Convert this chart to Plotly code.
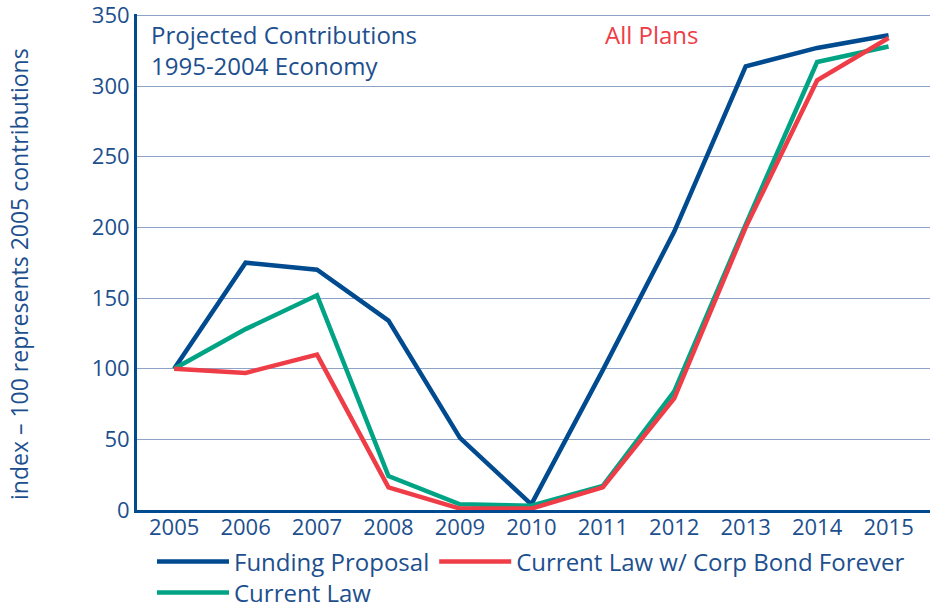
import plotly.graph_objects as go

years = ["2005", "2006", "2007", "2008", "2009", "2010", "2011", "2012", "2013", "2014", "2015"]
funding_proposal = [100, 175, 170, 134, 51, 4, 99, 197, 314, 327, 336]
corp_bond_forever = [100, 97, 110, 16, 1, 1, 16, 79, 200, 304, 334]
current_law = [100, 128, 152, 24, 4, 3, 17, 84, 202, 317, 328]

NAVY = "#004a8f"
RED = "#ee3d47"
GREEN = "#00a384"
TEXT = "#1d4f8e"
GRID = "#8fa3c8"
FONT = "Open Sans"

W, H = 931, 608
ML, MR, MT, MB = 137, 1, 14, 98
PW, PH = W - ML - MR, H - MT - MB

fig = go.Figure()

# green drawn before red so red sits on top like the original
traces = [
    ("Funding Proposal", funding_proposal, NAVY, 1, "legend"),
    ("Current Law", current_law, GREEN, 3, "legend2"),
    ("Current Law w/ Corp Bond Forever", corp_bond_forever, RED, 2, "legend"),
]
for name, vals, color, rank, leg in traces:
    fig.add_trace(
        go.Scatter(
            x=years,
            y=vals,
            mode="lines",
            name=name,
            line=dict(color=color, width=4.5),
            legendrank=rank,
            legend=leg,
        )
    )

fig.add_annotation(
    x=0.015, y=0.995, xref="paper", yref="paper",
    text="Projected Contributions<br>1995-2004 Economy",
    showarrow=False, xanchor="left", yanchor="top", align="left",
    font=dict(family=FONT, size=24, color=TEXT),
)
fig.add_annotation(
    x=0.588, y=0.995, xref="paper", yref="paper",
    text="All Plans",
    showarrow=False, xanchor="left", yanchor="top",
    font=dict(family=FONT, size=24, color=RED),
)
# y axis title, placed by hand to sit where the original has it
fig.add_annotation(
    x=(19 - ML) / PW, y=(H - MB - 274) / PH, xref="paper", yref="paper",
    text="index \u2013 100 represents 2005 contributions",
    textangle=-90, showarrow=False, xanchor="center", yanchor="middle",
    font=dict(family=FONT, size=23, color=TEXT),
)

legend_style = dict(
    orientation="h",
    xref="container", yref="container",
    xanchor="left", yanchor="middle",
    font=dict(family=FONT, size=24, color=TEXT),
    itemwidth=72,
    bgcolor="rgba(0,0,0,0)",
)

fig.update_layout(
    width=W,
    height=H,
    margin=dict(l=ML, r=MR, t=MT, b=MB),
    paper_bgcolor="white",
    plot_bgcolor="white",
    font=dict(family=FONT, color=TEXT),
    showlegend=True,
    legend=dict(x=152 / W, y=1 - 562 / H, **legend_style),
    legend2=dict(x=152 / W, y=1 - 593 / H, **legend_style),
    xaxis=dict(
        type="category",
        range=[-0.52, 10.58],
        showgrid=False,
        showline=True, linecolor=NAVY, linewidth=3,
        ticks="", tickfont=dict(family=FONT, size=22, color=TEXT),
        ticklabelstandoff=-4,
        zeroline=False,
        automargin=False,
        ticklabeloverflow="allow",
    ),
    yaxis=dict(
        range=[0, 351],
        tickvals=[0, 50, 100, 150, 200, 250, 300, 350],
        showgrid=True, gridcolor=GRID, gridwidth=1,
        showline=True, linecolor=NAVY, linewidth=3,
        ticks="", tickfont=dict(family=FONT, size=22, color=TEXT),
        zeroline=False,
        automargin=False,
        ticklabeloverflow="allow",
    ),
)

# drop the default 8px page margin so the figure fills the window exactly
fig.write_html(
    "out.html",
    config={"displayModeBar": False},
    post_script="document.body.style.margin = '0';",
)
